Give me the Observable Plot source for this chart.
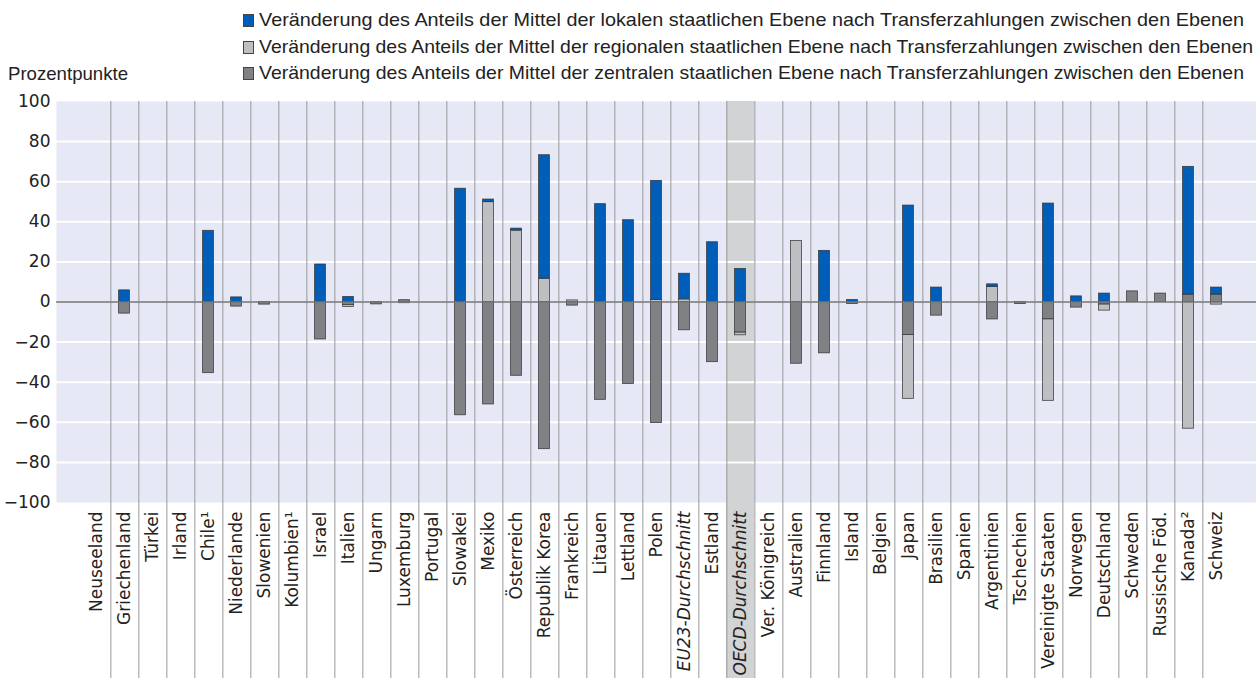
<!DOCTYPE html>
<html><head><meta charset="utf-8">
<script src="https://cdn.jsdelivr.net/npm/d3@7"></script>
<script src="https://cdn.jsdelivr.net/npm/@observablehq/plot@0.6"></script>
<style>
body{margin:0;background:#fff;width:1256px;height:678px;overflow:hidden;font-family:"DejaVu Sans",sans-serif;color:#222}
#legend{position:relative;height:90px;width:1256px}
.item{position:absolute;left:243px;height:20px;display:flex;align-items:center;white-space:nowrap}
.sw{width:11px;height:13px;border:1px solid #444;box-sizing:border-box;margin-right:5px;flex:none}
.lt{font-family:"Liberation Sans",sans-serif;font-size:19px;transform-origin:left center;display:inline-block}
#unit{position:absolute;left:8px;top:63px;font-family:"Liberation Sans",sans-serif;font-size:19px;transform-origin:left center}
</style></head><body>
<div id="legend"></div><div id="chart"></div>
<script>
const categories = ["Neuseeland","Griechenland","Türkei","Irland","Chile¹","Niederlande","Slowenien","Kolumbien¹","Israel","Italien","Ungarn","Luxemburg","Portugal","Slowakei","Mexiko","Österreich","Republik Korea","Frankreich","Litauen","Lettland","Polen","EU23-Durchschnitt","Estland","OECD-Durchschnitt","Ver. Königreich","Australien","Finnland","Island","Belgien","Japan","Brasilien","Spanien","Argentinien","Tschechien","Vereinigte Staaten","Norwegen","Deutschland","Schweden","Russische Föd.","Kanada²","Schweiz"];
const local    = [0,5.8,0,0,35.5,2.3,0,0,18.7,2.5,0,0,0,56.5,1.3,1.0,61.6,0,48.8,40.8,59.4,12.8,29.8,16.5,0,0,25.5,1.0,0,48.1,7.2,0,1.3,0,49.1,2.8,4.2,0,0,63.7,3.5];
const regional = [0,0,0,0,0,0,0,0,0,-1.0,0,-0.6,0,0,49.8,35.6,11.6,0.8,0,0,1.0,1.3,0,-1.3,0,30.4,0,0,0,-31.8,0,0,7.5,0,-40.6,0,-3.0,0,0,-63.2,-1.3];
const central  = [0,-5.8,0,0,-35.5,-2.3,-1.3,0,-18.7,-1.5,-1.2,0.9,0,-56.5,-51.1,-36.8,-73.4,-1.8,-48.8,-40.9,-60.4,-14.1,-30.0,-15.3,0,-30.8,-25.6,-1.0,0,-16.5,-6.8,0,-8.7,-1.0,-8.7,-2.8,-1.3,5.3,4.2,3.7,3.7];
const seriesNames = [
  "Veränderung des Anteils der Mittel der lokalen staatlichen Ebene nach Transferzahlungen zwischen den Ebenen",
  "Veränderung des Anteils der Mittel der regionalen staatlichen Ebene nach Transferzahlungen zwischen den Ebenen",
  "Veränderung des Anteils der Mittel der zentralen staatlichen Ebene nach Transferzahlungen zwischen den Ebenen"
];
const seriesColors = ["#005eb8","#bebfc3","#808184"];
const yTicks = [100,80,60,40,20,0,-20,-40,-60,-80,-100];
const gridValues = [80,60,40,20,-20,-40,-60,-80];
const highlighted = "OECD-Durchschnitt";
const italicLabels = ["EU23-Durchschnitt","OECD-Durchschnitt"];
const unitLabel = "Prozentpunkte";

// legend
const legend = document.getElementById("legend");
const tops = [10, 37, 63];
const targets = [985, 994, 985];
seriesNames.forEach((name, i) => {
  const it = document.createElement("div");
  it.className = "item"; it.style.top = tops[i] + "px";
  const sw = document.createElement("span"); sw.className = "sw"; sw.style.background = seriesColors[i];
  const t = document.createElement("span"); t.className = "lt"; t.textContent = name;
  it.appendChild(sw); it.appendChild(t); legend.appendChild(it);
  const w = t.getBoundingClientRect().width;
  t.style.transform = `scaleX(${targets[i] / w})`;
});
const u = document.createElement("div"); u.id = "unit"; u.textContent = unitLabel; legend.appendChild(u);
u.style.display = "inline-block";
u.style.transform = `scaleX(${120 / u.getBoundingClientRect().width})`;

// data
const rows = [];
categories.forEach((c, i) => {
  [[2, central[i]], [1, regional[i]], [0, local[i]]].forEach(([s, v]) => {
    if (v !== 0) rows.push({cat: c, series: seriesNames[s], value: v});
  });
});

const W = 1256, H = 588, mL = 56, mR = 0, mT = 11, mB = 176;
const padOuter = 0.39;
const bw = (W - mL - mR) / (categories.length + 2 * padOuter);
const yBottom = -100 - (mB) / ((H - mT - mB) / 200);

const chart = Plot.plot({
  width: W, height: H, marginLeft: mL, marginRight: mR, marginTop: mT, marginBottom: mB,
  style: {fontFamily: "DejaVu Sans, sans-serif", fontSize: "16px", color: "#222", background: "white"},
  x: {type: "band", domain: categories, paddingInner: 0, paddingOuter: padOuter, align: 0.5},
  y: {domain: [-100, 100]},
  color: {domain: seriesNames, range: seriesColors},
  marks: [
    Plot.frame({fill: "#e6e8f5", stroke: null}),
    Plot.barY([highlighted], {x: d => d, y1: 100, y2: yBottom, fill: "#d2d3d5", insetLeft: 0, insetRight: 0}),
    Plot.ruleY(gridValues, {stroke: "white", strokeWidth: 2}),
    Plot.ruleX(categories.slice(0, -1), {x: d => d, dx: bw / 2, y1: 100, y2: yBottom, stroke: "#999", strokeWidth: 1}),
    Plot.barY(rows, {x: "cat", y: "value", fill: "series", insetLeft: 8.6, insetRight: 8.6, stroke: "#333", strokeWidth: 0.8, strokeOpacity: 0.9}),
    Plot.ruleY([0], {stroke: "#777", strokeWidth: 1.5}),
    Plot.axisY({ticks: yTicks, tickSize: 0, tickPadding: 6, tickFormat: d3.format("d"), label: null, fontSize: 17}),
    Plot.axisX({tickSize: 0, tickPadding: 9, tickRotate: -90, label: null, fontSize: 17})
  ]
});
document.getElementById("chart").appendChild(chart);
chart.querySelectorAll("text").forEach(t => {
  if (italicLabels.includes(t.textContent)) t.setAttribute("font-style", "italic");
});
</script>
</body></html>
